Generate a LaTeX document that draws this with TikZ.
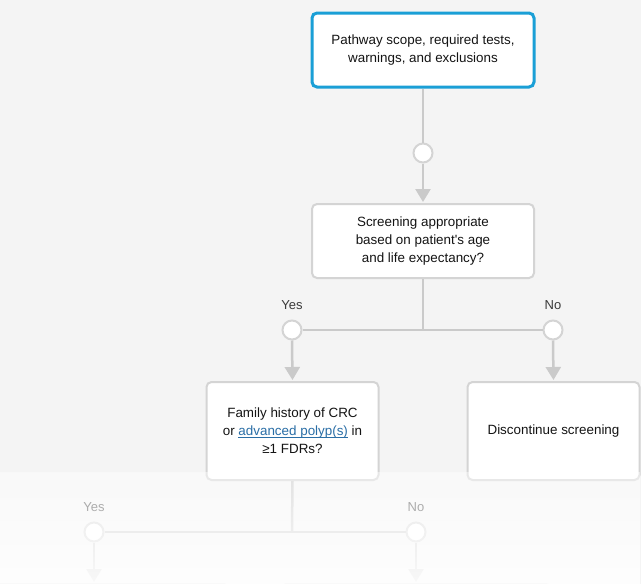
\documentclass[tikz,border=0pt]{standalone}
\usepackage{fontspec}
\setmainfont{Liberation Sans}
\usetikzlibrary{arrows.meta,fadings}
\definecolor{bgc}{HTML}{F4F4F4}
\definecolor{linec}{HTML}{CACACA}
\definecolor{boxc}{HTML}{D4D4D4}
\definecolor{bluec}{HTML}{1A9FD6}
\definecolor{txtc}{HTML}{141414}
\definecolor{lblc}{HTML}{3A3A3A}
\definecolor{linkc}{HTML}{2A6EA6}
\newcommand{\linkul}[1]{\textcolor{linkc}{\setbox0\hbox{#1}\rlap{\rule[-1.6pt]{\wd0}{0.7pt}}\box0}}
\tikzfading[name=fadedown, top color=transparent!55, bottom color=transparent!12]
\tikzset{
  box/.style={draw=boxc, line width=2pt, fill=white, rounded corners=5pt, minimum width=222pt, minimum height=74pt, align=center, text=txtc, font=\fontsize{13.4}{18}\selectfont, inner sep=0pt},
  smallbox/.style={box, minimum width=172pt, minimum height=98pt},
  topbox/.style={box, draw=bluec, line width=3pt},
  junc/.style={circle, draw=boxc, line width=2pt, fill=white, minimum size=19pt, inner sep=0pt},
  conn/.style={draw=linec, line width=2.5pt},
  arr/.style={conn, -{Triangle[length=13pt,width=15pt]}, shorten >=1pt},
  lbl/.style={text=lblc, font=\fontsize{13}{15}\selectfont, inner sep=0pt},
}
\begin{document}
\begin{tikzpicture}[x=1pt,y=1pt]
\useasboundingbox (0,0) rectangle (641,-584);
\clip (0,0) rectangle (641,-584);
\fill[bgc] (0,0) rectangle (641,-584);
% top
\node[topbox] (scope) at (423,-50) {Pathway scope, required tests,\\warnings, and exclusions};
\node[junc] (c1) at (423,-153) {};
\node[box] (age) at (423,-241) {Screening appropriate\\based on patient\textquotesingle s age\\and life expectancy?};
\draw[conn] (scope.south) -- (c1.north);
\draw[arr] (c1.south) -- (age.north);
% level 2
\node[junc] (cyes) at (292,-330) {};
\node[junc] (cno) at (553,-330) {};
\node[lbl] (lyes) at (292,-305) {Yes};
\node[lbl] (lno) at (553,-305) {No};
\coordinate (j1) at (423,-330);
\draw[conn] (age.south) -- (j1);
\draw[conn] (cyes.east) -- (cno.west);
\node[smallbox] (fam) at (292.5,-431) {Family history of CRC\\or \linkul{advanced polyp(s)} in\\≥1 FDRs?};
\node[smallbox] (disc) at (553.5,-431) {Discontinue screening};
\draw[arr] (cyes.south) -- (fam.north);
\draw[arr] (cno.south) -- (disc.north);
% level 3
\node[junc] (dyes) at (94,-532) {};
\node[junc] (dno) at (416,-532) {};
\node[lbl] (myes) at (94,-507) {Yes};
\node[lbl] (mno) at (416,-507) {No};
\coordinate (j2) at (292,-532);
\draw[conn] (fam.south) -- (j2);
\draw[conn] (dyes.east) -- (dno.west);
\node[smallbox, anchor=north, minimum width=270pt] (nextl) at (94,-583) {};
\node[smallbox, anchor=north, minimum width=270pt] (nextr) at (416,-583) {};
\draw[arr] (dyes.south) -- (nextl.north);
\draw[arr] (dno.south) -- (nextr.north);
% fade
\fill[white, path fading=fadedown] (0,-472) rectangle (641,-584);
\end{tikzpicture}
\end{document}
